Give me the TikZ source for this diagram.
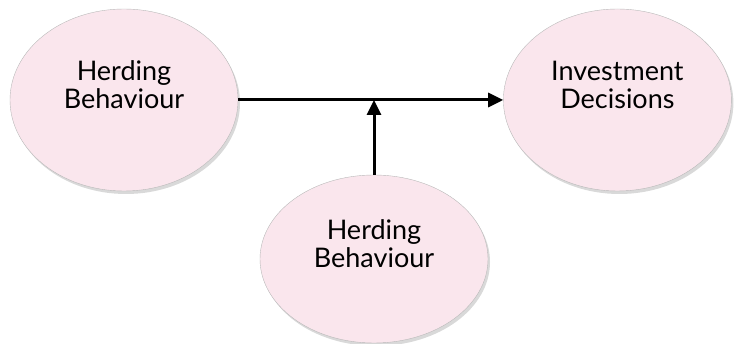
\documentclass[tikz,border=0pt]{standalone}
\usepackage{fontspec}
\setmainfont{Lato}
\usepackage{tikz}
\usetikzlibrary{positioning}
\usetikzlibrary{arrows.meta}
\usetikzlibrary{shapes.geometric}
\usetikzlibrary{shadows}

\definecolor{blush}{RGB}{250,230,237}

% two centred lines, set a little above the middle of the oval
\newcommand{\ovaltext}[1]{\raisebox{5pt}[0pt][0pt]{\begin{tabular}{@{}c@{}}#1\end{tabular}}}

\tikzset{
  oval/.style={ellipse, draw=gray!55, line width=0.4pt, minimum width=228pt, minimum height=182pt,
    fill=blush,
    font=\fontsize{27}{27}\selectfont,
    drop shadow={shadow xshift=2pt, shadow yshift=-3pt, opacity=0.3, fill=gray}},
  link/.style={-{Triangle[length=15pt, width=14pt]}, line width=3pt}
}

\begin{document}
\begin{tikzpicture}[x=1pt, y=1pt]
  \useasboundingbox (0,0) rectangle (734,-344);

  % Define nodes
  \node[oval] (herding) at (124,-100) {\ovaltext{Herding\\Behaviour}};
  \node[oval, right=265pt of herding] (decisions) {\ovaltext{Investment\\Decisions}};
  \node[oval, minimum height=168pt] (moderator) at (374,-259) {\ovaltext{Herding\\Behaviour}};
  \coordinate (join) at (moderator.north |- herding.east);

  % Connect the nodes
  \draw [line width=3pt] (herding.east) -- (join);
  \draw [link] (join) -- (decisions.west);
  \draw [link] (moderator.north) -- (join);

\end{tikzpicture}
\end{document}
